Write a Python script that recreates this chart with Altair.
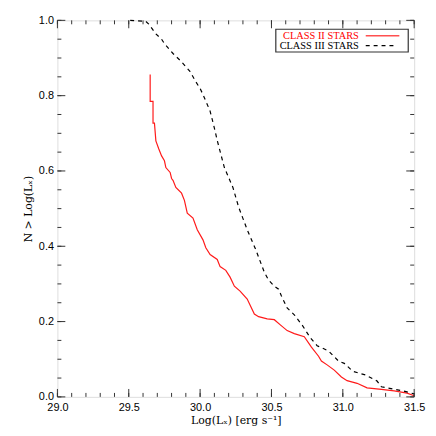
import altair as alt
import pandas as pd

# Class II stars (red, solid)
red_x = [29.65, 29.65, 29.67, 29.67, 29.68, 29.69, 29.71, 29.73, 29.75, 29.76,
         29.79, 29.80, 29.81, 29.83, 29.87, 29.89, 29.91, 29.95, 29.98, 30.02,
         30.04, 30.07, 30.12, 30.14, 30.18, 30.21, 30.24, 30.28, 30.33, 30.38,
         30.41, 30.47, 30.52, 30.56, 30.61, 30.66, 30.73, 30.78, 30.83, 30.85,
         30.89, 30.94, 30.99, 31.03, 31.10, 31.17, 31.27, 31.36, 31.45, 31.50]
red_y = [0.856, 0.785, 0.785, 0.727, 0.727, 0.680, 0.659, 0.640, 0.627, 0.609,
         0.596, 0.580, 0.575, 0.556, 0.541, 0.522, 0.488, 0.475, 0.444, 0.417,
         0.396, 0.378, 0.365, 0.346, 0.336, 0.318, 0.294, 0.281, 0.260, 0.220,
         0.213, 0.207, 0.205, 0.192, 0.176, 0.168, 0.160, 0.132, 0.108, 0.095,
         0.085, 0.071, 0.053, 0.043, 0.036, 0.024, 0.020, 0.016, 0.010, 0.003]

# Class III stars (black, dashed)
blk_x = [29.51, 29.62, 29.64, 29.69, 29.73, 29.75, 29.81, 29.87, 29.93, 29.97,
         30.00, 30.02, 30.07, 30.10, 30.12, 30.17, 30.23, 30.27, 30.33, 30.39,
         30.45, 30.48, 30.52, 30.55, 30.57, 30.61, 30.66, 30.72, 30.77, 30.82,
         30.90, 30.97, 31.01, 31.07, 31.16, 31.24, 31.27, 31.31, 31.35, 31.42,
         31.50]
blk_y = [1.000, 0.997, 0.990, 0.964, 0.950, 0.938, 0.912, 0.890, 0.864, 0.837,
         0.819, 0.803, 0.759, 0.714, 0.681, 0.609, 0.556, 0.504, 0.444, 0.391,
         0.331, 0.310, 0.294, 0.286, 0.268, 0.236, 0.218, 0.188, 0.158, 0.136,
         0.122, 0.095, 0.089, 0.068, 0.058, 0.042, 0.027, 0.024, 0.021, 0.016,
         0.008]

x_major = [29.0, 29.5, 30.0, 30.5, 31.0, 31.5]
x_minor = [round(29.0 + 0.1 * i, 1) for i in range(26)]
y_major = [0.0, 0.2, 0.4, 0.6, 0.8, 1.0]
y_minor = [round(0.05 * i, 2) for i in range(21)]

legend_labels = ["CLASS II STARS", "CLASS III STARS"]
legend_colors = ["#ff0000", "#000000"]

W, H = 361, 381
xs = alt.Scale(domain=[29.0, 31.5], nice=False, zero=False)
ys = alt.Scale(domain=[0.0, 1.0], nice=False, zero=False)
SERIF = "DejaVu Serif"
LSERIF = "Liberation Serif"
SANS = "Liberation Sans"

df_red = pd.DataFrame({"x": red_x, "y": red_y, "i": range(len(red_x))})
df_blk = pd.DataFrame({"x": blk_x, "y": blk_y, "i": range(len(blk_x))})

base_axes = alt.Chart(pd.DataFrame({"x": [29.0], "y": [0.0]})).mark_point(opacity=0).encode(
    x=alt.X("x:Q", scale=xs, axis=alt.Axis(
        values=x_major, format=".1f", ticks=False, domain=False, grid=False,
        labelFlush=False, labelOverlap=False,
        labelFont=SANS, labelFontSize=11, labelColor="#000", labelPadding=5,
        title="Log(Lₓ) [erg s⁻¹]", titleFont=SERIF, titleFontSize=11,
        titleFontWeight="normal", titleColor="#000", titlePadding=2)),
    y=alt.Y("y:Q", scale=ys, axis=alt.Axis(
        values=y_major, format=".1f", ticks=False, domain=False, grid=False,
        labelFlush=False, labelOverlap=False,
        labelFont=SANS, labelFontSize=11, labelColor="#000", labelPadding=4,
        title="N > Log(Lₓ)", titleFont=SERIF, titleFontSize=11,
        titleFontWeight="normal", titleColor="#000", titlePadding=5)),
)

red_line = alt.Chart(df_red).mark_line(color="#ff1a1a", strokeWidth=1.2).encode(
    x=alt.X("x:Q", scale=xs), y=alt.Y("y:Q", scale=ys), order="i:Q")
blk_line = alt.Chart(df_blk).mark_line(color="#000", strokeWidth=1.2, strokeDash=[4, 4]).encode(
    x=alt.X("x:Q", scale=xs), y=alt.Y("y:Q", scale=ys), order="i:Q")

tick_color = "#333"
def xticks(vals, length):
    d = pd.DataFrame({"t": vals})
    bot = alt.Chart(d).mark_rule(color=tick_color, strokeWidth=1).encode(
        x=alt.X("t:Q", scale=xs), y=alt.value(H), y2=alt.value(H - length))
    top = alt.Chart(d).mark_rule(color=tick_color, strokeWidth=1).encode(
        x=alt.X("t:Q", scale=xs), y=alt.value(0), y2=alt.value(length))
    return [bot, top]

def yticks(vals, length):
    d = pd.DataFrame({"t": vals})
    left = alt.Chart(d).mark_rule(color=tick_color, strokeWidth=1).encode(
        y=alt.Y("t:Q", scale=ys), x=alt.value(0), x2=alt.value(length))
    right = alt.Chart(d).mark_rule(color=tick_color, strokeWidth=1).encode(
        y=alt.Y("t:Q", scale=ys), x=alt.value(W), x2=alt.value(W - length))
    return [left, right]

ticks = xticks(x_minor, 4) + xticks(x_major, 8) + yticks(y_minor, 4) + yticks(y_major, 8)

one = pd.DataFrame({"a": [0]})
leg_box = alt.Chart(one).mark_rect(fill="white", stroke="#333", strokeWidth=1.2).encode(
    x=alt.value(221), x2=alt.value(355), y=alt.value(9), y2=alt.value(32))
leg_t1 = alt.Chart(one).mark_text(align="right", baseline="middle", font=LSERIF,
                                   fontSize=10.5, color=legend_colors[0]).encode(
    x=alt.value(305), y=alt.value(15.5), text=alt.value(legend_labels[0]))
leg_t2 = alt.Chart(one).mark_text(align="right", baseline="middle", font=LSERIF,
                                   fontSize=10.5, color=legend_colors[1]).encode(
    x=alt.value(305), y=alt.value(25.5), text=alt.value(legend_labels[1]))
leg_l1 = alt.Chart(one).mark_rule(color="#ff5050", strokeWidth=1.5).encode(
    x=alt.value(312), x2=alt.value(346), y=alt.value(15.5))
leg_l2 = alt.Chart(one).mark_rule(color="#000", strokeWidth=1.2, strokeDash=[4, 4]).encode(
    x=alt.value(312), x2=alt.value(344), y=alt.value(25.5))

chart = alt.layer(base_axes, red_line, blk_line, *ticks,
                  leg_box, leg_t1, leg_t2, leg_l1, leg_l2).properties(
    width=W, height=H,
    autosize=alt.AutoSizeParams(type="none"),
    padding={"left": 50, "top": 10, "right": 14, "bottom": 30},
).configure_view(stroke="#333", strokeWidth=1.5).configure(background="white")

chart.save("out.html", embed_options={"renderer": "svg", "actions": False})
